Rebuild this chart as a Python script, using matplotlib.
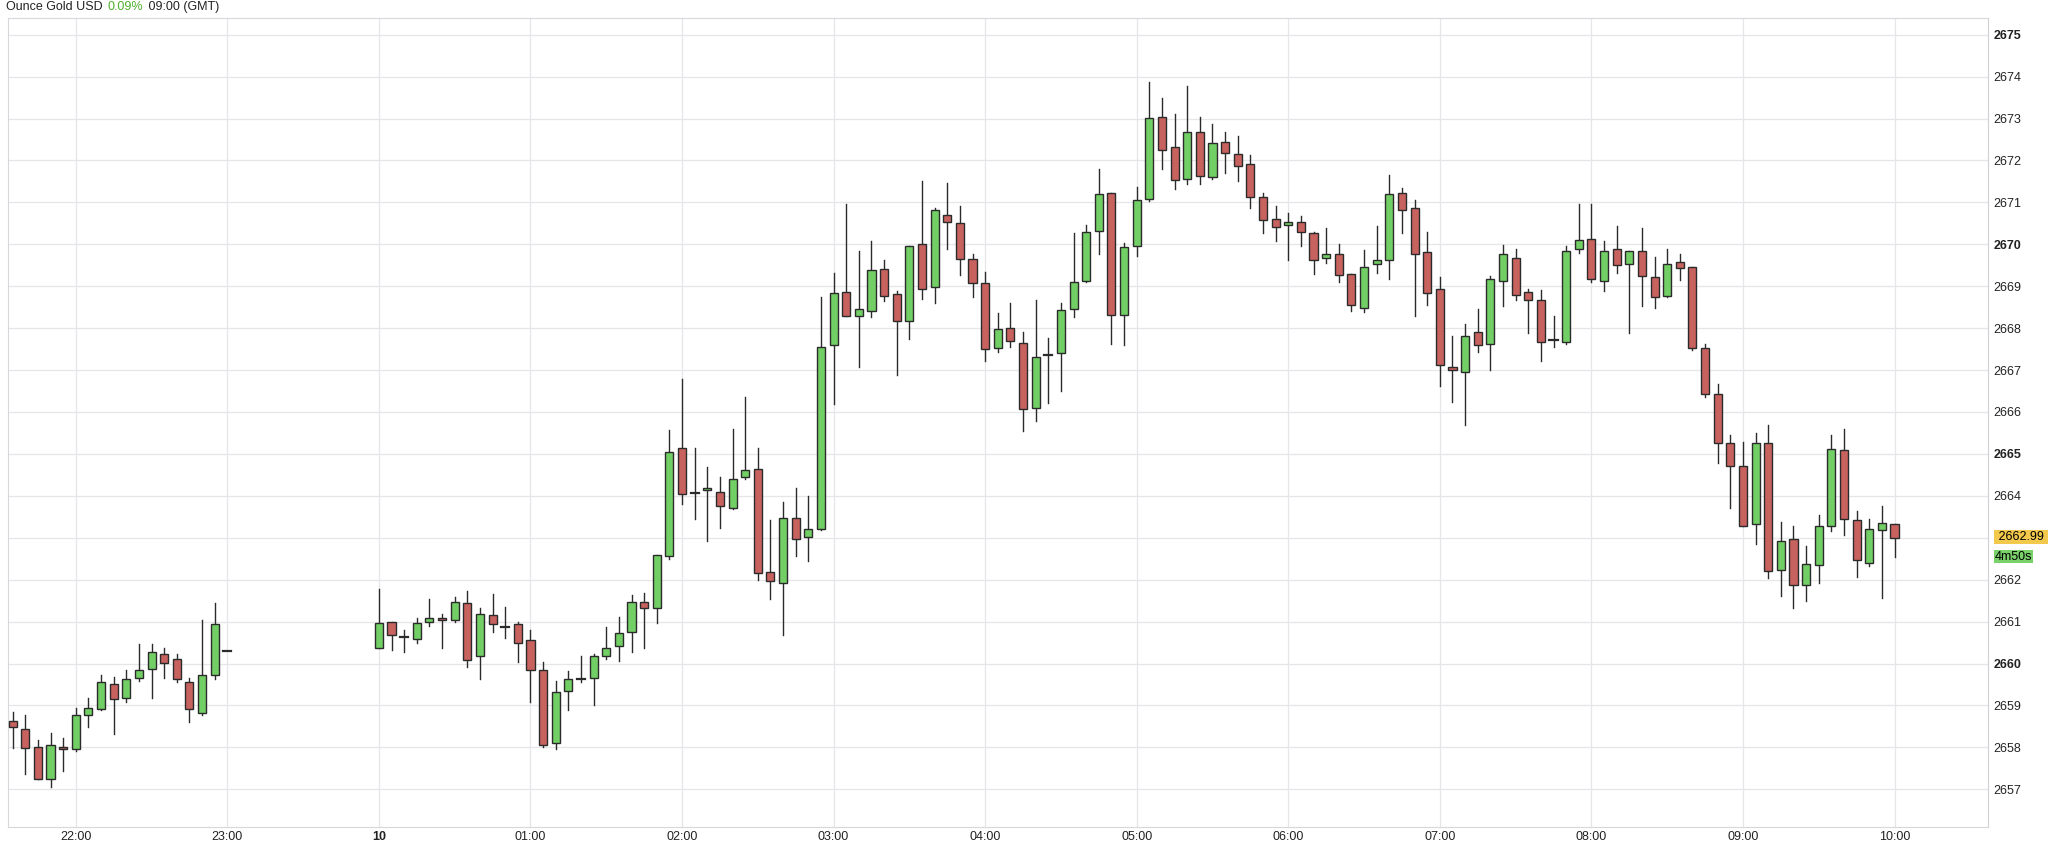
import matplotlib
matplotlib.use("Agg")
import matplotlib.pyplot as plt
import matplotlib.transforms as mtransforms
from matplotlib.patches import Rectangle
import numpy as np

plt.rcParams['font.family'] = ['Liberation Sans', 'DejaVu Sans']

# session 1: 21:35 .. 23:00 (Dec 9), session 2: 00:00 .. 10:00 (Dec 10), 5-minute candles
s1_open  = [2658.63,2658.44,2658.01,2657.24,2658.01,2657.95,2658.78,2658.91,2659.51,2659.17,2659.65,2659.87,2660.23,2660.10,2659.55,2658.81,2659.72,2660.31]
s1_high  = [2658.85,2658.76,2658.18,2658.35,2658.23,2658.94,2659.17,2659.72,2659.68,2659.85,2660.46,2660.46,2660.38,2660.23,2659.65,2661.03,2661.45,2660.31]
s1_low   = [2657.99,2657.37,2657.24,2657.05,2657.44,2657.91,2658.49,2658.88,2658.31,2659.09,2659.59,2659.17,2659.65,2659.55,2658.60,2658.78,2659.62,2660.31]
s1_close = [2658.49,2657.99,2657.24,2658.06,2657.96,2658.76,2658.95,2659.55,2659.15,2659.64,2659.85,2660.28,2660.01,2659.62,2658.91,2659.72,2660.94,2660.31]

s2_open = [
 2660.38,2660.99,2660.63,2660.58,2660.99,2661.09,2661.03,2661.44,2660.17,2661.15,2660.87,2660.94,
 2660.55,2659.85,2658.10,2659.35,2659.63,2659.65,2660.17,2660.41,2660.74,2661.46,2661.32,2662.56,
 2665.13,2664.06,2664.14,2664.08,2663.71,2664.44,2664.64,2662.18,2661.92,2663.46,2663.01,2663.22,
 2667.59,2668.87,2668.28,2668.42,2669.40,2668.81,2668.18,2670.00,2668.97,2670.71,2670.50,2669.64,
 2669.08,2667.53,2668.01,2667.65,2666.09,2667.35,2667.40,2668.46,2669.12,2670.32,2671.22,2668.31,
 2669.97,2671.09,2673.04,2672.31,2671.56,2672.69,2671.60,2672.44,2672.15,2671.92,2671.13,2670.60,
 2670.45,2670.54,2670.26,2669.68,2669.78,2669.29,2668.48,2669.52,2669.63,2671.22,2670.87,2669.81,
 2668.93,2667.08,2666.95,2667.90,2667.62,2669.13,2669.67,2668.86,2668.68,2667.72,2667.66,2669.89,
 2670.12,2669.12,2669.89,2669.52,2669.84,2669.22,2668.77,2669.57,2669.45,2667.53,2666.44,2665.27,
 2664.70,2663.32,2665.27,2662.23,2662.97,2661.88,2662.36,2663.29,2665.09,2663.42,2662.39,2663.19,
 2663.32]
s2_high = [
 2661.77,2660.99,2660.81,2661.09,2661.54,2661.18,2661.59,2661.73,2661.32,2661.65,2661.35,2661.00,
 2660.79,2660.04,2659.58,2659.81,2660.17,2660.23,2660.87,2661.12,2661.63,2661.67,2662.60,2665.58,
 2666.79,2665.13,2664.68,2664.46,2665.60,2666.35,2665.15,2663.42,2663.85,2664.19,2664.00,2668.74,
 2669.32,2670.96,2669.85,2670.09,2669.62,2668.88,2669.97,2671.51,2670.87,2671.47,2670.92,2669.77,
 2669.33,2668.36,2668.59,2667.91,2668.68,2667.76,2668.59,2670.26,2670.45,2671.79,2671.22,2670.04,
 2671.37,2673.88,2673.49,2673.12,2673.78,2673.04,2672.88,2672.69,2672.59,2672.14,2671.22,2670.92,
 2670.74,2670.67,2670.29,2670.38,2670.00,2669.29,2669.86,2670.43,2671.66,2671.35,2671.05,2670.29,
 2669.22,2667.81,2668.09,2668.45,2669.24,2669.99,2669.90,2668.94,2668.92,2668.29,2669.97,2670.96,
 2670.96,2670.08,2670.44,2669.84,2670.40,2669.70,2669.89,2669.78,2669.45,2667.62,2666.66,2665.46,
 2665.28,2665.50,2665.69,2663.38,2663.28,2662.80,2663.54,2665.46,2665.60,2663.64,2663.45,2663.75,
 2663.32]
s2_low = [
 2660.36,2660.32,2660.28,2660.49,2660.90,2660.36,2661.00,2659.91,2659.64,2660.76,2660.60,2660.04,
 2659.08,2658.01,2657.95,2658.88,2659.55,2659.01,2660.10,2660.06,2660.28,2660.38,2660.96,2662.50,
 2663.81,2663.44,2662.92,2663.24,2663.68,2664.40,2661.99,2661.54,2660.67,2662.56,2662.44,2663.19,
 2666.19,2668.28,2667.08,2668.27,2668.65,2666.88,2667.73,2668.69,2668.59,2669.90,2669.27,2668.74,
 2667.21,2667.44,2667.56,2665.54,2665.79,2666.22,2666.51,2668.27,2669.09,2669.77,2667.62,2667.59,
 2669.72,2671.03,2671.79,2671.32,2671.44,2671.45,2671.56,2671.69,2671.50,2670.86,2670.28,2670.09,
 2669.62,2669.97,2669.29,2669.55,2669.10,2668.42,2668.39,2669.31,2669.17,2670.28,2668.28,2668.55,
 2666.63,2666.24,2665.69,2667.43,2667.00,2668.52,2668.68,2667.88,2667.21,2667.55,2667.62,2669.80,
 2669.09,2668.88,2669.31,2667.88,2668.52,2668.49,2668.75,2669.16,2667.49,2666.36,2664.79,2663.70,
 2663.28,2662.84,2662.03,2661.61,2661.33,2661.50,2661.93,2663.15,2663.06,2662.06,2662.32,2661.56,
 2662.55]
s2_close = [
 2660.96,2660.67,2660.63,2660.96,2661.09,2661.03,2661.46,2660.09,2661.19,2660.94,2660.87,2660.49,
 2659.85,2658.05,2659.32,2659.64,2659.63,2660.19,2660.38,2660.73,2661.47,2661.32,2662.60,2665.04,
 2664.04,2664.06,2664.19,2663.76,2664.41,2664.62,2662.15,2661.97,2663.46,2662.97,2663.22,2667.56,
 2668.85,2668.28,2668.45,2669.38,2668.76,2668.18,2669.97,2668.94,2670.81,2670.53,2669.64,2669.08,
 2667.50,2667.99,2667.69,2666.06,2667.32,2667.35,2668.44,2669.09,2670.29,2671.19,2668.31,2669.94,
 2671.05,2673.01,2672.24,2671.54,2672.67,2671.63,2672.41,2672.18,2671.86,2671.12,2670.58,2670.42,
 2670.54,2670.29,2669.62,2669.78,2669.27,2668.55,2669.46,2669.63,2671.19,2670.83,2669.77,2668.84,
 2667.13,2666.99,2667.81,2667.59,2669.18,2669.76,2668.80,2668.67,2667.68,2667.72,2669.84,2670.10,
 2669.18,2669.84,2669.51,2669.84,2669.25,2668.75,2669.52,2669.44,2667.53,2666.42,2665.27,2664.70,
 2663.28,2665.27,2662.20,2662.93,2661.88,2662.38,2663.29,2665.12,2663.45,2662.46,2663.22,2663.36,
 2662.99]

tick_labels = ["22:00", "23:00", "10", "01:00", "02:00", "03:00", "04:00", "05:00",
               "06:00", "07:00", "08:00", "09:00", "10:00"]
y_ticks = list(range(2657, 2676))
last_price = "2662.99"
countdown = "4m50s"

# minutes relative to 00:00 of the 10th
t1 = np.arange(len(s1_open)) * 5 - 145
t2 = np.arange(len(s2_open)) * 5
times = np.concatenate([t1, t2])
O = np.array(s1_open + s2_open); H = np.array(s1_high + s2_high)
L = np.array(s1_low + s2_low); C = np.array(s1_close + s2_close)

GREEN = "#72cf66"; RED = "#c8625e"; EDGE = "#2b2b2b"
fig = plt.figure(figsize=(20.48, 8.43), dpi=100)
ax = fig.add_axes([0.0037, 0.019, 0.9670, 0.9597])
w = 3.2
for t, o, h, l, c in zip(times, O, H, L, C):
    ax.plot([t, t], [l, h], color=EDGE, lw=1.0, zorder=2)
    if abs(o - c) < 0.02:
        ax.plot([t - w / 2, t + w / 2], [o, o], color=EDGE, lw=1.6, zorder=3)
    else:
        col = GREEN if c > o else RED
        ax.add_patch(Rectangle((t - w / 2, min(o, c)), w, abs(c - o), facecolor=col,
                               edgecolor=EDGE, lw=1.0, zorder=3))

ax.set_xlim(-147, 637)
ax.set_ylim(2656.1, 2675.4)
xt = [-120, -60] + list(range(0, 601, 60))
ax.set_xticks(xt)
ax.set_xticklabels(tick_labels)
for lab in ax.get_xticklabels():
    if lab.get_text() == "10":
        lab.set_fontweight("bold")
ax.yaxis.tick_right()
ax.set_yticks(y_ticks)
# the 2663 label is hidden behind the last-price tag in the reference
ax.set_yticklabels(["" if v == 2663 else str(v) for v in y_ticks])
ax.tick_params(axis="both", length=0, labelsize=9, colors="#222222")
ax.tick_params(axis="y", pad=4)
ax.tick_params(axis="x", pad=3)
for tk, v in zip(ax.yaxis.get_major_ticks(), y_ticks):
    if v % 5 == 0:
        tk.label1.set_fontweight("bold")
        tk.label2.set_fontweight("bold")
ax.grid(True, color="#e6e6ea", lw=0.9, zorder=0)
for s in ["left", "top", "bottom"]:
    ax.spines[s].set_color("#d8d8dc")
ax.spines["right"].set_color("#cfcfd4")

tr = mtransforms.blended_transform_factory(ax.transAxes, ax.transData)
ax.text(1.0035, 2663.02, " " + last_price + " ", transform=tr, fontsize=9, va="center", ha="left",
        bbox=dict(boxstyle="square,pad=0.1", fc="#f2c94c", ec="none"), clip_on=False, zorder=5)
ax.text(1.0035, 2662.55, countdown, transform=tr, fontsize=9, va="center", ha="left",
        bbox=dict(boxstyle="square,pad=0.05", fc="#7ad16a", ec="none"), clip_on=False, zorder=4)

# title
r = fig.canvas.get_renderer()
x0 = 6 / 2048
parts = [("Ounce Gold USD ", "#222222"), ("0.09%", "#4caf2a"), (" 09:00 (GMT)", "#222222")]
for txt, col in parts:
    tt = fig.text(x0, 1 - 7 / 843, txt, color=col, fontsize=9, va="center", ha="left")
    bb = tt.get_window_extent(renderer=r)
    x0 = bb.x1 / fig.bbox.width + 1.5 / 2048

fig.savefig("out.png", dpi=100)
